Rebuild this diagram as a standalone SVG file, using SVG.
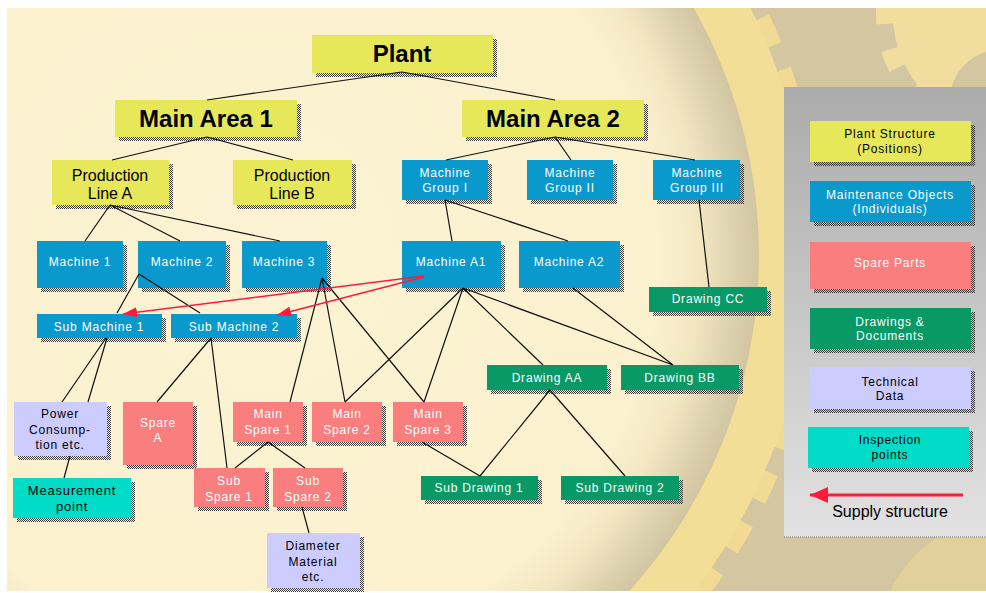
<svg xmlns="http://www.w3.org/2000/svg" width="986" height="593" viewBox="0 0 986 593">
<defs>
<pattern id="dots" width="2" height="2" patternUnits="userSpaceOnUse"><rect width="1" height="1" fill="#3a3a3a"/><rect x="1" y="1" width="1" height="1" fill="#3a3a3a"/></pattern>
<radialGradient id="cream" cx="259" cy="255" r="500" gradientUnits="userSpaceOnUse">
<stop offset="0" stop-color="#FCF3D4"/><stop offset="0.8" stop-color="#FBF1CE"/><stop offset="0.88" stop-color="#F3E7C2"/><stop offset="0.95" stop-color="#DDD2AE"/><stop offset="1" stop-color="#D2C6A2"/>
</radialGradient>
<linearGradient id="panel" x1="0" y1="0" x2="0" y2="1"><stop offset="0" stop-color="#ABABAB"/><stop offset="1" stop-color="#E2E2E2"/></linearGradient>
<clipPath id="bgclip"><rect x="7" y="8" width="979" height="583"/></clipPath>
<marker id="ar" viewBox="0 0 14 10" refX="14" refY="5" markerWidth="14" markerHeight="10" markerUnits="userSpaceOnUse" orient="auto"><path d="M0,0 L14,5 L0,10 z" fill="#FF1A3C"/></marker>
<marker id="arL" viewBox="0 0 18 16" refX="18" refY="8" markerWidth="18" markerHeight="16" markerUnits="userSpaceOnUse" orient="auto"><path d="M0,0 L18,8 L0,16 z" fill="#FF1A3C"/></marker>
</defs>
<style>
.sh{fill:url(#dots)}
.y{fill:#E6E85A}
.b{fill:#0A99CC}
.p{fill:#FA7E7E}
.g{fill:#089966}
.l{fill:#CCCCFF}
.t{fill:#00DCC8}
text{font-family:"Liberation Sans",Arial,sans-serif;text-anchor:middle}
.big{font-size:24px;font-weight:bold;fill:#000}
.mid{font-size:16px;fill:#000}
.w{font-size:12px;fill:#fff;letter-spacing:0.8px}
.k{font-size:12px;fill:#000;letter-spacing:0.8px}
.k13{font-size:13px;fill:#000;letter-spacing:0.8px}
.con{stroke:#111;stroke-width:1.2;fill:none}
.red{stroke:#FF1A3C;stroke-width:1.5;fill:none}
</style>
<rect width="986" height="593" fill="#fff"/>
<g id="background" clip-path="url(#bgclip)">
<rect x="7" y="8" width="979" height="583" fill="#D3C6A0"/>
<circle cx="1005" cy="15" r="112" fill="#F1DE9E"/>
<circle cx="1005" cy="15" r="120" fill="none" stroke="#F1DE9E" stroke-width="18" stroke-dasharray="20 26"/>
<circle cx="1000" cy="100" r="50" fill="#D3C6A0"/>
<circle cx="1000" cy="640" r="120" fill="#E2D09A"/>
<circle cx="259" cy="255" r="556" fill="none" stroke="#F1DB94" stroke-width="16" stroke-dasharray="30 26"/>
<circle cx="259" cy="255" r="524" fill="none" stroke="#F3DE98" stroke-width="52"/>
<circle cx="259" cy="255" r="500" fill="url(#cream)"/>
</g>
<g id="legend">
<rect x="784" y="87" width="202" height="450" fill="url(#panel)"/>
<line x1="784" y1="537" x2="986" y2="537" stroke="#777" stroke-width="1" stroke-dasharray="1 1"/>
<g id="legend-plant"><rect class="sh" x="814" y="125" width="161" height="41"/><rect class="y" x="810" y="121" width="161" height="41"/><text class="k" x="890" y="138">Plant Structure</text><text class="k" x="890" y="153">(Positions)</text></g>
<g id="legend-maint"><rect class="sh" x="814" y="185" width="161" height="41"/><rect class="b" x="810" y="181" width="161" height="41"/><text class="w" x="890" y="199">Maintenance Objects</text><text class="w" x="890" y="213">(Individuals)</text></g>
<g id="legend-spare"><rect class="sh" x="814" y="246" width="161" height="47"/><rect class="p" x="810" y="242" width="161" height="47"/><text class="w" x="890" y="267">Spare Parts</text></g>
<g id="legend-draw"><rect class="sh" x="814" y="312" width="161" height="41"/><rect class="g" x="810" y="308" width="161" height="41"/><text class="w" x="890" y="326">Drawings &amp;</text><text class="w" x="890" y="340">Documents</text></g>
<g id="legend-tech"><rect class="sh" x="814" y="371" width="161" height="42"/><rect class="l" x="810" y="367" width="161" height="42"/><text class="k" x="890" y="386">Technical</text><text class="k" x="890" y="400">Data</text></g>
<g id="legend-insp"><rect class="sh" x="812" y="431" width="161" height="41"/><rect class="t" x="808" y="427" width="161" height="41"/><text class="k" x="890" y="444">Inspection</text><text class="k" x="890" y="459">points</text></g>
<g id="legend-supply"><line x1="963" y1="495" x2="810" y2="495" stroke="#FF1A3C" stroke-width="3" marker-end="url(#arL)"/><text x="890" y="517" style="font-size:16px;fill:#000">Supply structure</text></g>
</g>
<g id="nodes">
<g id="plant"><rect class="sh" x="316" y="39" width="181" height="38"/><rect class="y" x="312" y="35" width="181" height="38"/><text class="big" x="402" y="62">Plant</text></g>
<g id="main-area-1"><rect class="sh" x="119" y="104" width="182" height="37"/><rect class="y" x="115" y="100" width="182" height="37"/><text class="big" x="206" y="127">Main Area 1</text></g>
<g id="main-area-2"><rect class="sh" x="466" y="104" width="182" height="37"/><rect class="y" x="462" y="100" width="182" height="37"/><text class="big" x="553" y="127">Main Area 2</text></g>
<g id="production-line-a"><rect class="sh" x="56" y="164" width="117" height="45"/><rect class="y" x="52" y="160" width="117" height="45"/><text class="mid" x="110" y="181">Production</text><text class="mid" x="110" y="199">Line A</text></g>
<g id="production-line-b"><rect class="sh" x="237" y="164" width="119" height="45"/><rect class="y" x="233" y="160" width="119" height="45"/><text class="mid" x="292" y="181">Production</text><text class="mid" x="292" y="199">Line B</text></g>
<g id="machine-group-1"><rect class="sh" x="406" y="164" width="86" height="40"/><rect class="b" x="402" y="160" width="86" height="40"/><text class="w" x="445" y="177">Machine</text><text class="w" x="445" y="192">Group I</text></g>
<g id="machine-group-2"><rect class="sh" x="531" y="164" width="86" height="40"/><rect class="b" x="527" y="160" width="86" height="40"/><text class="w" x="570" y="177">Machine</text><text class="w" x="570" y="192">Group II</text></g>
<g id="machine-group-3"><rect class="sh" x="657" y="164" width="87" height="40"/><rect class="b" x="653" y="160" width="87" height="40"/><text class="w" x="697" y="177">Machine</text><text class="w" x="697" y="192">Group III</text></g>
<g id="machine-1"><rect class="sh" x="41" y="245" width="86" height="47"/><rect class="b" x="37" y="241" width="86" height="47"/><text class="w" x="80" y="266">Machine 1</text></g>
<g id="machine-2"><rect class="sh" x="142" y="245" width="88" height="47"/><rect class="b" x="138" y="241" width="88" height="47"/><text class="w" x="182" y="266">Machine 2</text></g>
<g id="machine-3"><rect class="sh" x="246" y="245" width="85" height="47"/><rect class="b" x="242" y="241" width="85" height="47"/><text class="w" x="284" y="266">Machine 3</text></g>
<g id="machine-a1"><rect class="sh" x="406" y="245" width="99" height="47"/><rect class="b" x="402" y="241" width="99" height="47"/><text class="w" x="451" y="266">Machine A1</text></g>
<g id="machine-a2"><rect class="sh" x="523" y="245" width="101" height="47"/><rect class="b" x="519" y="241" width="101" height="47"/><text class="w" x="569" y="266">Machine A2</text></g>
<g id="drawing-cc"><rect class="sh" x="653" y="291" width="118" height="25"/><rect class="g" x="649" y="287" width="118" height="25"/><text class="w" x="708" y="303">Drawing CC</text></g>
<g id="sub-machine-1"><rect class="sh" x="41" y="318" width="125" height="24"/><rect class="b" x="37" y="314" width="125" height="24"/><text class="w" x="99" y="331">Sub Machine 1</text></g>
<g id="sub-machine-2"><rect class="sh" x="175" y="318" width="126" height="24"/><rect class="b" x="171" y="314" width="126" height="24"/><text class="w" x="234" y="331">Sub Machine 2</text></g>
<g id="drawing-aa"><rect class="sh" x="491" y="369" width="120" height="25"/><rect class="g" x="487" y="365" width="120" height="25"/><text class="w" x="547" y="382">Drawing AA</text></g>
<g id="drawing-bb"><rect class="sh" x="625" y="369" width="118" height="25"/><rect class="g" x="621" y="365" width="118" height="25"/><text class="w" x="680" y="382">Drawing BB</text></g>
<g id="power-consumption"><rect class="sh" x="18" y="406" width="93" height="54"/><rect class="l" x="14" y="402" width="93" height="54"/><text class="k" x="60" y="418">Power</text><text class="k" x="60" y="434">Consump-</text><text class="k" x="60" y="449">tion etc.</text></g>
<g id="spare-a"><rect class="sh" x="127" y="406" width="70" height="63"/><rect class="p" x="123" y="402" width="70" height="63"/><text class="w" x="158" y="427">Spare</text><text class="w" x="158" y="442">A</text></g>
<g id="main-spare-1"><rect class="sh" x="237" y="406" width="70" height="40"/><rect class="p" x="233" y="402" width="70" height="40"/><text class="w" x="268" y="418">Main</text><text class="w" x="268" y="434">Spare 1</text></g>
<g id="main-spare-2"><rect class="sh" x="316" y="406" width="70" height="40"/><rect class="p" x="312" y="402" width="70" height="40"/><text class="w" x="347" y="418">Main</text><text class="w" x="347" y="434">Spare 2</text></g>
<g id="main-spare-3"><rect class="sh" x="397" y="406" width="70" height="40"/><rect class="p" x="393" y="402" width="70" height="40"/><text class="w" x="428" y="418">Main</text><text class="w" x="428" y="434">Spare 3</text></g>
<g id="sub-spare-1"><rect class="sh" x="198" y="472" width="71" height="39"/><rect class="p" x="194" y="468" width="71" height="39"/><text class="w" x="229" y="485">Sub</text><text class="w" x="229" y="501">Spare 1</text></g>
<g id="sub-spare-2"><rect class="sh" x="277" y="472" width="70" height="39"/><rect class="p" x="273" y="468" width="70" height="39"/><text class="w" x="308" y="485">Sub</text><text class="w" x="308" y="501">Spare 2</text></g>
<g id="measurement-point"><rect class="sh" x="17" y="482" width="118" height="40"/><rect class="t" x="13" y="478" width="118" height="40"/><text class="k13" x="72" y="495">Measurement</text><text class="k13" x="72" y="511">point</text></g>
<g id="diameter-material"><rect class="sh" x="271" y="537" width="93" height="55"/><rect class="l" x="267" y="533" width="93" height="55"/><text class="k" x="313" y="550">Diameter</text><text class="k" x="313" y="566">Material</text><text class="k" x="313" y="581">etc.</text></g>
<g id="sub-drawing-1"><rect class="sh" x="425" y="480" width="117" height="24"/><rect class="g" x="421" y="476" width="117" height="24"/><text class="w" x="479" y="492">Sub Drawing 1</text></g>
<g id="sub-drawing-2"><rect class="sh" x="565" y="480" width="118" height="24"/><rect class="g" x="561" y="476" width="118" height="24"/><text class="w" x="620" y="492">Sub Drawing 2</text></g>
</g>
<g id="connectors">
<path class="con" d="M402,72 L207,100 M402,72 L555,100 M207,137 L112,160 M207,137 L293,160 M555,137 L446,160 M555,137 L571,160 M555,137 L695,160 M110,205 L85,241 M110,205 L180,241 M110,205 L280,241 M445,200 L452,241 M445,200 L568,241 M699,200 L709,287 M139,274 L117,313 M139,274 L200,313 M322,278 L290,402 M322,278 L345,402 M322,278 L424,402 M463,288 L345,402 M463,288 L424,402 M463,288 L543,365 M463,288 L673,365 M573,288 L673,365 M550,390 L480,476 M550,390 L625,476 M422,442 L480,476 M106,338 L62,402 M107,338 L88,402 M70,456 L64,478 M211,338 L157,402 M211,338 L227,468 M268,442 L235,468 M268,442 L305,468 M302,507 L309,533"/>
<line class="red" x1="424" y1="276" x2="123" y2="314" marker-end="url(#ar)"/>
<line class="red" x1="424" y1="277" x2="277" y2="315" marker-end="url(#ar)"/>
</g>
</svg>
